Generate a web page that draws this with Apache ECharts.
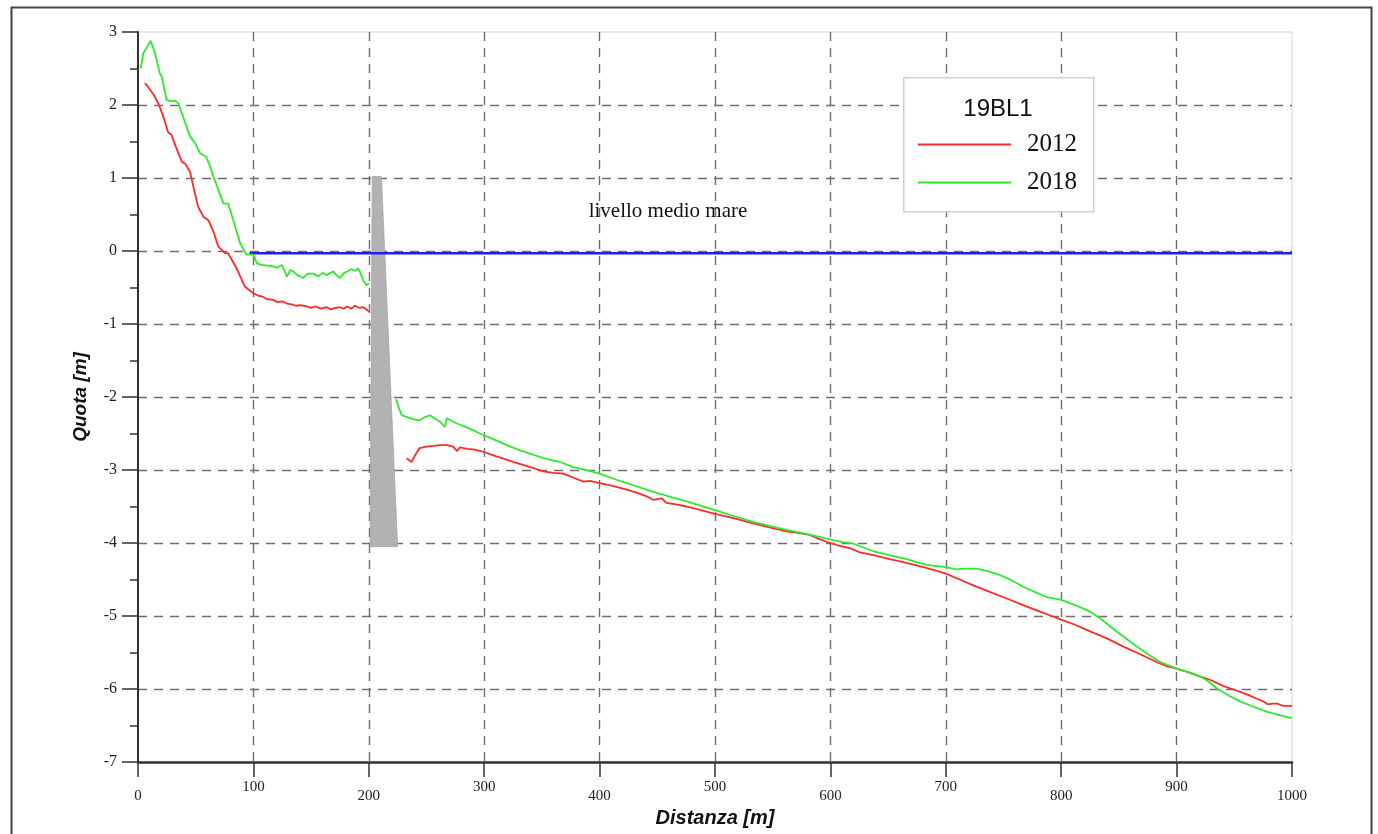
<!DOCTYPE html>
<html>
<head>
<meta charset="utf-8">
<script src="https://cdn.jsdelivr.net/npm/echarts@6/dist/echarts.min.js"></script>
<style>
  html, body { margin: 0; padding: 0; background: #fff; }
  #chart { width: 1378px; height: 834px; }
</style>
</head>
<body>
<div id="chart"></div>
<script>
// profile 19BL1, distance along the section [m] and elevation [m]
const dist2012a = [6, 10, 14, 17.6, 22, 26, 29, 33, 38, 40.7, 45, 48, 52, 56.6, 61, 65, 69.6, 75.4, 78, 82, 85.5, 89, 92.7, 96, 100, 104, 108.6, 112, 117, 121, 125, 129, 133, 137, 141, 146, 150, 154, 158, 163.5, 167, 171, 175, 178, 181, 185, 188, 192, 195, 198, 200];
const quota2012a = [2.30, 2.22, 2.13, 2.02, 1.84, 1.63, 1.59, 1.42, 1.22, 1.20, 1.09, 0.88, 0.61, 0.47, 0.42, 0.28, 0.06, -0.03, -0.03, -0.14, -0.24, -0.36, -0.49, -0.53, -0.58, -0.61, -0.63, -0.66, -0.67, -0.70, -0.69, -0.72, -0.73, -0.75, -0.74, -0.76, -0.78, -0.76, -0.79, -0.77, -0.80, -0.78, -0.77, -0.79, -0.76, -0.79, -0.75, -0.78, -0.77, -0.80, -0.83];

const dist2012b = [232.8, 237, 240, 244, 250, 256, 261.7, 268, 273, 276.6, 279, 285, 292, 299, 310, 325, 340, 351, 360, 368.5, 378, 386, 391.7, 400, 412, 423.5, 432, 440.8, 446.5, 450, 453.8, 458, 466, 475.5, 488, 500, 516, 533, 548, 562, 572, 582, 591, 600, 608, 617, 625.6, 638, 651.6, 665, 680.5, 690, 700, 712, 723.8, 738, 752.8, 767, 781.6, 790, 800, 812, 825, 840, 853.8, 868, 882.6, 892, 900, 910, 920.8, 930, 940.6, 948, 955, 962, 969, 975, 979, 983, 987, 992.5, 1000];
const quota2012b = [-2.84, -2.89, -2.80, -2.70, -2.68, -2.67, -2.66, -2.66, -2.68, -2.74, -2.69, -2.71, -2.72, -2.75, -2.81, -2.89, -2.96, -3.02, -3.04, -3.05, -3.11, -3.16, -3.15, -3.18, -3.22, -3.27, -3.31, -3.36, -3.41, -3.40, -3.39, -3.45, -3.47, -3.50, -3.55, -3.60, -3.66, -3.73, -3.79, -3.84, -3.86, -3.89, -3.95, -4.00, -4.04, -4.07, -4.13, -4.17, -4.22, -4.27, -4.33, -4.37, -4.42, -4.50, -4.58, -4.67, -4.76, -4.85, -4.94, -4.99, -5.05, -5.12, -5.21, -5.31, -5.42, -5.52, -5.63, -5.69, -5.72, -5.77, -5.83, -5.88, -5.96, -6.00, -6.04, -6.08, -6.13, -6.17, -6.21, -6.20, -6.20, -6.23, -6.23];

const dist2018a = [2.3, 4.6, 8, 11, 14.7, 19, 20.5, 24.8, 29.2, 32, 35, 37.9, 41, 45, 49.4, 53.7, 59, 62, 65.3, 70, 74, 78, 82.6, 88.4, 94, 100, 103, 107, 112, 117, 121, 124.5, 127, 129, 132, 134.6, 138, 143, 147, 152, 156, 160, 163.5, 166, 169, 172, 175, 178, 181, 185, 188, 191, 193, 195, 198, 200];
const quota2018a = [2.50, 2.71, 2.80, 2.88, 2.71, 2.43, 2.39, 2.07, 2.05, 2.06, 2.02, 1.89, 1.75, 1.57, 1.48, 1.34, 1.29, 1.18, 1.02, 0.82, 0.65, 0.65, 0.42, 0.11, -0.05, -0.05, -0.17, -0.19, -0.20, -0.21, -0.23, -0.19, -0.27, -0.35, -0.26, -0.28, -0.33, -0.37, -0.31, -0.31, -0.35, -0.30, -0.33, -0.31, -0.28, -0.33, -0.37, -0.31, -0.28, -0.25, -0.27, -0.24, -0.31, -0.40, -0.47, -0.44];

const dist2018b = [223.6, 226, 228.5, 232, 235.7, 240, 244, 248, 253, 257, 261.7, 266, 267.5, 272, 276, 287, 299, 310, 319.5, 331, 348, 357, 365.7, 377, 388, 400, 412, 423.5, 435, 446.5, 460, 475.5, 488, 500, 516, 533, 548, 562, 580, 599.7, 608, 620, 637, 652, 666, 683, 700, 709.4, 715, 726.8, 737, 747, 757, 767, 777, 787.4, 800, 812, 825, 833.6, 843, 853.8, 864, 874, 885.6, 900, 910, 920.8, 928, 934.7, 945, 955, 966, 978, 990, 1000];
const quota2018b = [-2.03, -2.15, -2.25, -2.27, -2.29, -2.31, -2.32, -2.28, -2.25, -2.29, -2.34, -2.41, -2.29, -2.33, -2.36, -2.43, -2.52, -2.59, -2.66, -2.73, -2.82, -2.86, -2.89, -2.96, -3.00, -3.05, -3.12, -3.18, -3.24, -3.30, -3.36, -3.43, -3.49, -3.55, -3.63, -3.71, -3.77, -3.82, -3.88, -3.95, -3.98, -4.01, -4.11, -4.17, -4.22, -4.30, -4.33, -4.36, -4.35, -4.35, -4.39, -4.44, -4.51, -4.60, -4.67, -4.74, -4.78, -4.85, -4.94, -5.03, -5.15, -5.28, -5.40, -5.51, -5.63, -5.72, -5.77, -5.83, -5.90, -5.99, -6.09, -6.17, -6.24, -6.31, -6.36, -6.40];

// breakwater outline (grey polygon)
const structX = [203, 211, 225, 201];
const structY = [1.02, 1.02, -4.05, -4.05];

// mean sea level
const seaX = [96.5, 1000];
const seaY = [-0.03, -0.03];

const zip = (xs, ys) => xs.map((x, i) => [x, ys[i]]);
const gap = [[215, '-']];

const data2012 = zip(dist2012a, quota2012a).concat(gap, zip(dist2012b, quota2012b));
const data2018 = zip(dist2018a, quota2018a).concat(gap, zip(dist2018b, quota2018b));

const chart = echarts.init(document.getElementById('chart'));

const tickFont = 'Liberation Serif';
const nameFont = '"Liberation Sans Narrow", "Liberation Sans", Arial';
const gridDash = { color: '#6e6e6e', type: [9, 7], width: 1.4 };

chart.setOption({
    animation: false,
    backgroundColor: '#fff',
    grid: {
        left: 138, top: 32, right: 86, bottom: 72,
        show: true, borderColor: '#d4d4d4', borderWidth: 1
    },
    xAxis: {
        type: 'value', min: 0, max: 1000, interval: 100,
        name: 'Distanza [m]', nameLocation: 'middle', nameGap: 44,
        nameTextStyle: { fontFamily: nameFont, fontSize: 20, fontStyle: 'italic', fontWeight: 'bold', color: '#111' },
        axisLine: { onZero: false, lineStyle: { color: '#333', width: 2.5 } },
        axisTick: { show: true, length: 15, lineStyle: { color: '#333', width: 1.5 } },
        axisLabel: {
            margin: 18,
            formatter: v => (v / 100) % 2 === 1 ? '{o|' + v + '}' : '{e|' + v + '}',
            rich: {
                o: { fontFamily: tickFont, fontSize: 15, color: '#222' },
                e: { fontFamily: tickFont, fontSize: 15, color: '#222', padding: [9, 0, 0, 0] }
            }
        },
        splitLine: { show: true, showMinLine: false, showMaxLine: false, lineStyle: gridDash }
    },
    yAxis: {
        type: 'value', min: -7, max: 3, interval: 1,
        name: 'Quota [m]', nameLocation: 'middle', nameGap: 48,
        nameTextStyle: { fontFamily: nameFont, fontSize: 19, fontStyle: 'italic', fontWeight: 'bold', color: '#111' },
        axisLine: { show: true, onZero: false, lineStyle: { color: '#333', width: 2 } },
        axisTick: { show: true, length: 16, lineStyle: { color: '#333', width: 1.5 } },
        minorTick: { show: true, splitNumber: 2, length: 8, lineStyle: { color: '#333', width: 1.5 } },
        axisLabel: { margin: 21, fontFamily: tickFont, fontSize: 16, color: '#222' },
        splitLine: { show: true, showMinLine: false, showMaxLine: false, lineStyle: gridDash }
    },
    legend: {
        orient: 'vertical', left: 913, top: 127, z: 20,
        itemWidth: 93, itemHeight: 2, itemGap: 13,
        icon: 'rect',
        data: ['2012', '2018'],
        textStyle: { fontFamily: tickFont, fontSize: 25, color: '#111', lineHeight: 24, padding: [0, 0, 0, 11] }
    },
    graphic: [
        { type: 'rect', left: 9, top: 5, z: 100, silent: true,
          shape: { width: 1360, height: 840 }, style: { fill: 'none', stroke: '#444', lineWidth: 2 } },
        { type: 'rect', left: 903, top: 77, z: 15,
          shape: { width: 190, height: 134 }, style: { fill: '#fff', stroke: '#cfcfcf', lineWidth: 1.5 } },
        { type: 'text', x: 998, y: 109, z: 16,
          style: { text: '19BL1', fontFamily: '"Liberation Sans", Arial', fontSize: 24, fill: '#111', align: 'center', verticalAlign: 'middle' } },
        { type: 'text', x: 668, y: 211, z: 16,
          style: { text: 'livello medio mare', fontFamily: tickFont, fontSize: 21, fill: '#111', align: 'center', verticalAlign: 'middle' } }
    ],
    series: [
        {
            type: 'custom', name: 'struttura', silent: true, z: 1,
            data: [[structX[0], structY[0]]],
            renderItem: (params, api) => ({
                type: 'polygon',
                shape: { points: structX.map((x, i) => api.coord([x, structY[i]])) },
                style: { fill: '#b2b2b2', stroke: '#9a9a9a', lineWidth: 0.6 }
            })
        },
        {
            type: 'line', name: 'lmm', silent: true, z: 3,
            data: zip(seaX, seaY), showSymbol: false,
            lineStyle: { color: '#1f1fe6', width: 2.5 }
        },
        {
            type: 'line', name: '2012', data: data2012, showSymbol: false, connectNulls: false,
            color: '#ff2a2a', lineStyle: { color: '#ff2a2a', width: 1.8 }
        },
        {
            type: 'line', name: '2018', data: data2018, showSymbol: false, connectNulls: false,
            color: '#2eea2e', lineStyle: { color: '#2eea2e', width: 1.8 }
        }
    ]
});
</script>
</body>
</html>
